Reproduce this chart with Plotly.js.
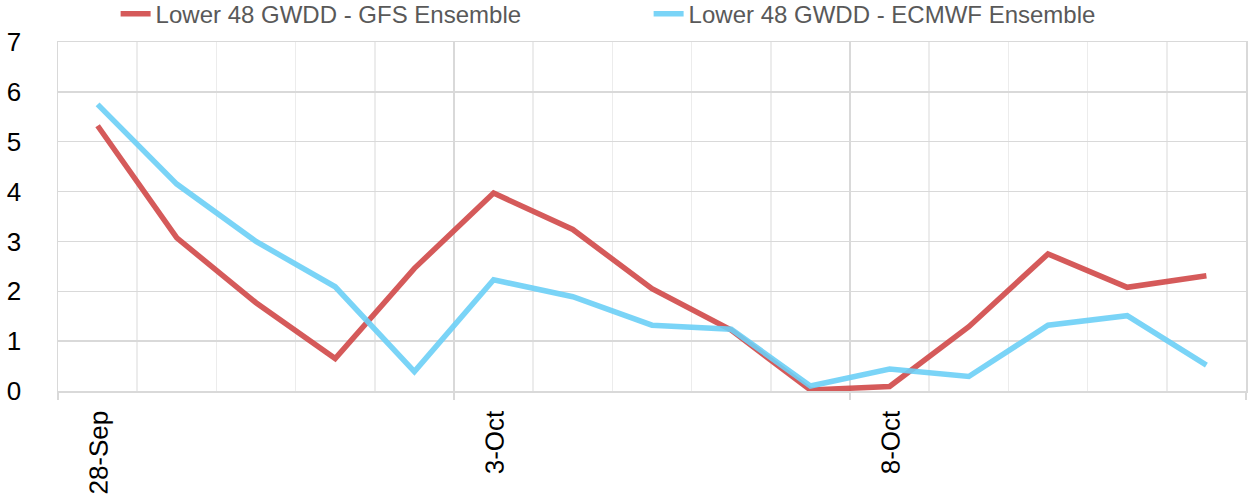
<!DOCTYPE html>
<html>
<head>
<meta charset="utf-8">
<script src="https://cdn.plot.ly/plotly-3.0.1.min.js"></script>
<style>html,body{margin:0;padding:0;background:#fff;}#chart{width:1252px;height:498px;}</style>
</head>
<body>
<div id="chart"></div>
<script>
const categories = ["28-Sep","29-Sep","30-Sep","1-Oct","2-Oct","3-Oct","4-Oct","5-Oct","6-Oct","7-Oct","8-Oct","9-Oct","10-Oct","11-Oct","12-Oct"];
const gfsValues = [5.32, 3.07, 1.77, 0.65, 2.46, 3.97, 3.24, 2.05, 1.22, 0.02, 0.09, 1.29, 2.75, 2.08, 2.31];
const ecmwfValues = [5.75, 4.15, 3.0, 2.09, 0.39, 2.23, 1.89, 1.32, 1.24, 0.1, 0.44, 0.29, 1.32, 1.51, 0.52];
const seriesNames = ["Lower 48 GWDD - GFS Ensemble", "Lower 48 GWDD - ECMWF Ensemble"];
const labeledTicks = ["28-Sep", "3-Oct", "8-Oct"];

const FONT = "Liberation Sans, Arial, sans-serif";
const n = categories.length;

const traces = [
  {x: categories, y: gfsValues, name: seriesNames[0], type: "scatter", mode: "lines",
   line: {color: "#d04848", width: 5.5}, opacity: 0.9, xaxis: "x", yaxis: "y"},
  {x: categories, y: ecmwfValues, name: seriesNames[1], type: "scatter", mode: "lines",
   line: {color: "#6ccff6", width: 5.5}, opacity: 0.9, xaxis: "x", yaxis: "y"},
  // empty helper trace so that the gridline axis (x2) is drawn
  {x: [], y: [], type: "scatter", mode: "lines", xaxis: "x2", yaxis: "y", showlegend: false, hoverinfo: "skip"}
];

const layout = {
  width: 1252, height: 498,
  margin: {l: 58, r: 6, t: 42, b: 107, autoexpand: false},
  paper_bgcolor: "#ffffff", plot_bgcolor: "#ffffff",
  font: {family: FONT, color: "#000000"},
  showlegend: true,
  legend: {orientation: "h", x: 0.0485, xanchor: "left", y: 1.08, yanchor: "middle",
           font: {family: FONT, size: 24, color: "#595959"}, entrywidth: 488, entrywidthmode: "pixels",
           bgcolor: "rgba(0,0,0,0)", traceorder: "normal"},
  xaxis: {type: "category", range: [-0.5, n - 0.5], tickmode: "array", tickvals: labeledTicks, ticktext: labeledTicks,
          tickangle: -89.9, showgrid: false, zeroline: false, showline: true, mirror: true,
          linecolor: "#d9d9d9", linewidth: 1.5, ticks: "", ticklabelstandoff: 0, ticklabelshift: -3,
          tickfont: {family: FONT, size: 26, color: "#000000"}, fixedrange: true},
  xaxis2: {overlaying: "x", anchor: "y", side: "bottom", type: "linear", range: [-0.5, n - 0.5],
           tickmode: "array", tickvals: [-0.5, 4.5, 9.5, n - 0.5], showticklabels: false,
           showgrid: true, gridcolor: "#d9d9d9", gridwidth: 1.5,
           ticks: "outside", ticklen: 8, tickcolor: "#d9d9d9", tickwidth: 1.5,
           minor: {tickmode: "linear", tick0: -0.5, dtick: 1, showgrid: true, gridcolor: "#ececec", gridwidth: 1.5},
           zeroline: false, showline: false, fixedrange: true},
  yaxis: {range: [0, 7], dtick: 1, tick0: 0, showgrid: true, gridcolor: "#d9d9d9", gridwidth: 1.5,
          zeroline: false, showline: true, mirror: true, linecolor: "#d9d9d9", linewidth: 1.5,
          ticks: "", ticklabelstandoff: 30,
          tickfont: {family: FONT, size: 26, color: "#000000"}, fixedrange: true}
};

Plotly.newPlot("chart", traces, layout, {displayModeBar: false, staticPlot: true});
</script>
</body>
</html>
